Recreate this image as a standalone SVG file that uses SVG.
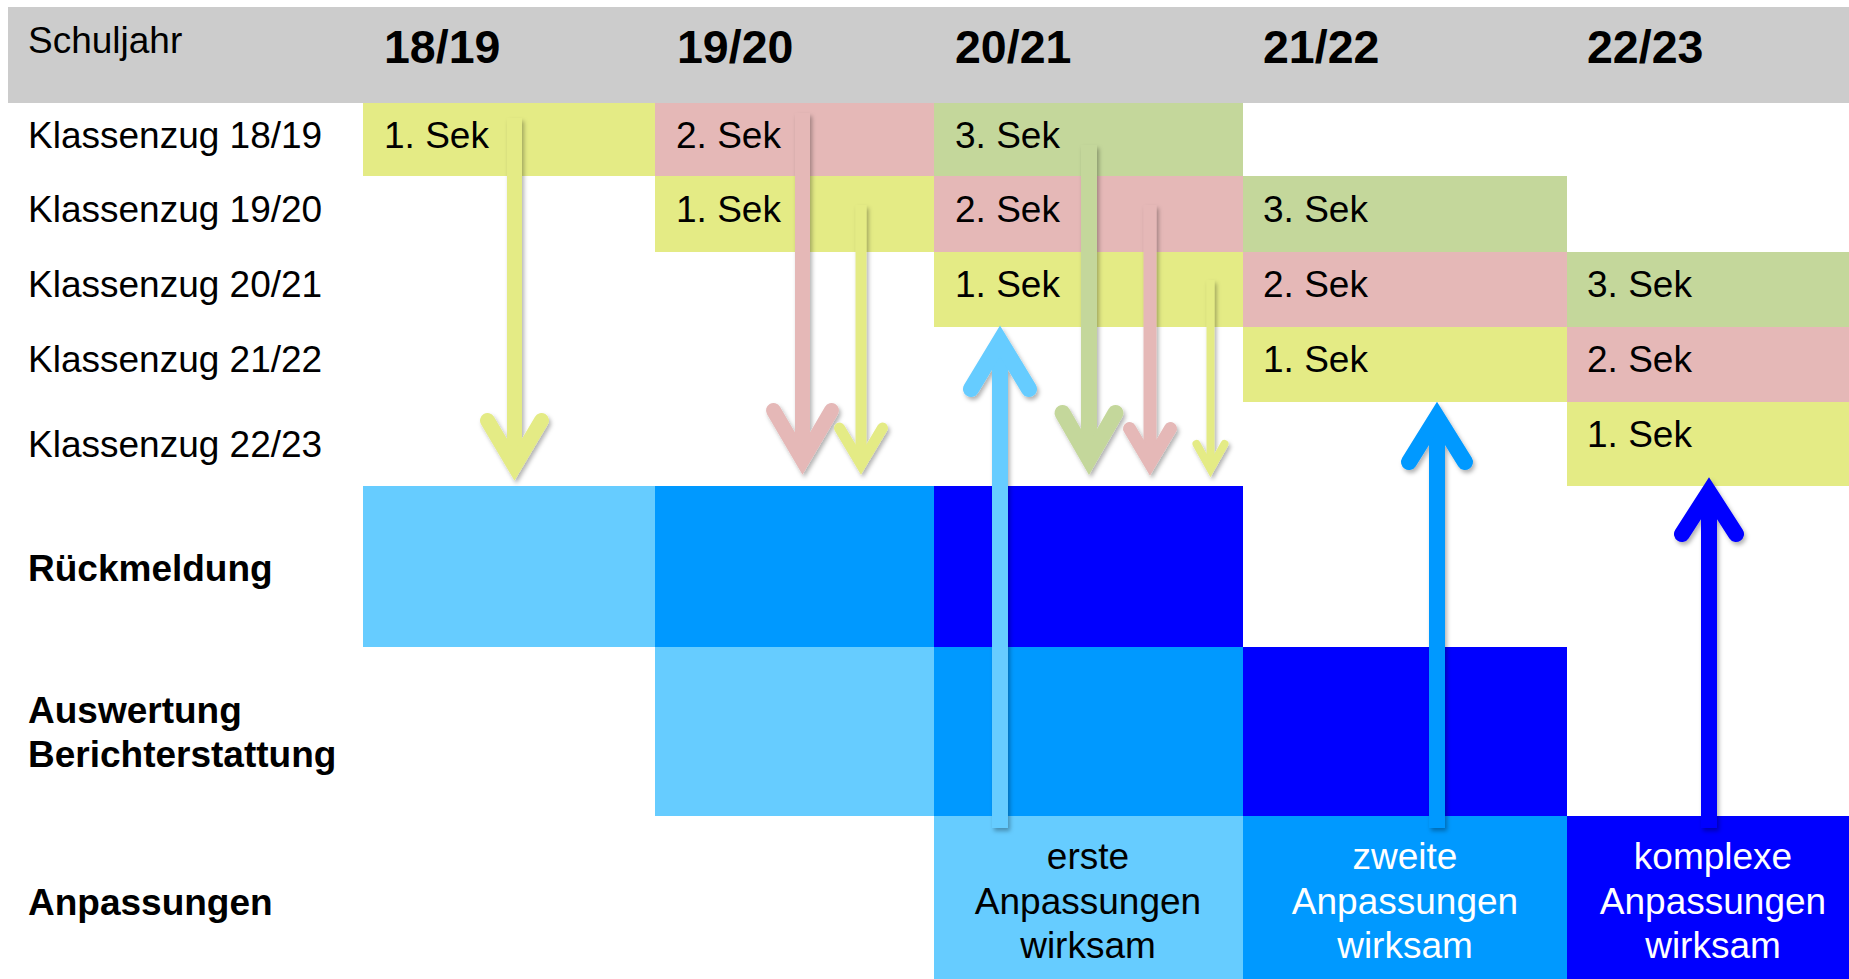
<svg xmlns="http://www.w3.org/2000/svg" width="1849" height="979" viewBox="0 0 1849 979">
<defs>
<style>
.t{font-family:"Liberation Sans",Arial,sans-serif;font-size:37px;fill:#000}
.b{font-weight:bold}
.y{font-family:"Liberation Sans",Arial,sans-serif;font-size:46.5px;font-weight:bold;fill:#000}
.c{text-anchor:middle}
.w{fill:#fff}
.ye{fill:#E4EB85}.pk{fill:#E5B8B7}.gr{fill:#C4D79B}
.b1{fill:#66CCFF}.b2{fill:#0099FF}.b3{fill:#0000FF}
.ar{fill:none;stroke-linecap:round;stroke-linejoin:miter;stroke-miterlimit:10}
.sh{fill:none;stroke-linecap:butt}
</style>
<filter id="ds" x="-30%" y="-10%" width="160%" height="120%">
<feDropShadow dx="2" dy="3" stdDeviation="2" flood-color="#000" flood-opacity="0.3"/>
</filter>
</defs>
<rect width="1849" height="979" fill="#fff"/>
<g id="header">
<rect x="8" y="7" width="1841" height="96" fill="#CCCCCC"/>
<text class="t" x="28" y="53">Schuljahr</text>
<text class="y" x="384" y="63">18/19</text>
<text class="y" x="677" y="63">19/20</text>
<text class="y" x="955" y="63">20/21</text>
<text class="y" x="1263" y="63">21/22</text>
<text class="y" x="1587" y="63">22/23</text>
</g>
<g id="row-labels">
<text class="t" x="28" y="148">Klassenzug 18/19</text>
<text class="t" x="28" y="222">Klassenzug 19/20</text>
<text class="t" x="28" y="297">Klassenzug 20/21</text>
<text class="t" x="28" y="372">Klassenzug 21/22</text>
<text class="t" x="28" y="457">Klassenzug 22/23</text>
<text class="t b" x="28" y="581">Rückmeldung</text>
<text class="t b" x="28" y="723">Auswertung</text>
<text class="t b" x="28" y="767">Berichterstattung</text>
<text class="t b" x="28" y="915">Anpassungen</text>
</g>
<g id="kz1819">
<rect class="ye" x="363" y="103" width="292" height="73"/><text class="t" x="384" y="148">1. Sek</text>
<rect class="pk" x="655" y="103" width="279" height="73"/><text class="t" x="676" y="148">2. Sek</text>
<rect class="gr" x="934" y="103" width="309" height="73"/><text class="t" x="955" y="148">3. Sek</text>
</g>
<g id="kz1920">
<rect class="ye" x="655" y="176" width="279" height="76"/><text class="t" x="676" y="222">1. Sek</text>
<rect class="pk" x="934" y="176" width="309" height="76"/><text class="t" x="955" y="222">2. Sek</text>
<rect class="gr" x="1243" y="176" width="324" height="76"/><text class="t" x="1263" y="222">3. Sek</text>
</g>
<g id="kz2021">
<rect class="ye" x="934" y="252" width="309" height="75"/><text class="t" x="955" y="297">1. Sek</text>
<rect class="pk" x="1243" y="252" width="324" height="75"/><text class="t" x="1263" y="297">2. Sek</text>
<rect class="gr" x="1567" y="252" width="282" height="75"/><text class="t" x="1587" y="297">3. Sek</text>
</g>
<g id="kz2122">
<rect class="ye" x="1243" y="327" width="324" height="75"/><text class="t" x="1263" y="372">1. Sek</text>
<rect class="pk" x="1567" y="327" width="282" height="75"/><text class="t" x="1587" y="372">2. Sek</text>
</g>
<g id="kz2223">
<rect class="ye" x="1567" y="402" width="282" height="84"/><text class="t" x="1587" y="447">1. Sek</text>
</g>
<g id="rueckmeldung">
<rect class="b1" x="363" y="486" width="292" height="161"/>
<rect class="b2" x="655" y="486" width="279" height="161"/>
<rect class="b3" x="934" y="486" width="309" height="161"/>
</g>
<g id="auswertung">
<rect class="b1" x="655" y="647" width="279" height="169"/>
<rect class="b2" x="934" y="647" width="309" height="169"/>
<rect class="b3" x="1243" y="647" width="324" height="169"/>
</g>
<g id="anpassungen">
<rect class="b1" x="934" y="816" width="309" height="163"/>
<text class="t c" x="1088" y="869">erste</text>
<text class="t c" x="1088" y="914">Anpassungen</text>
<text class="t c" x="1088" y="958">wirksam</text>
<rect class="b2" x="1243" y="816" width="324" height="163"/>
<text class="t c w" x="1405" y="869">zweite</text>
<text class="t c w" x="1405" y="914">Anpassungen</text>
<text class="t c w" x="1405" y="958">wirksam</text>
<rect class="b3" x="1567" y="816" width="282" height="163"/>
<text class="t c w" x="1713" y="869">komplexe</text>
<text class="t c w" x="1713" y="914">Anpassungen</text>
<text class="t c w" x="1713" y="958">wirksam</text>
</g>
<g id="connectors" filter="url(#ds)">
<g stroke="#E4EB85" stroke-width="15">
<path class="sh" d="M514.5 118V466"/><path class="ar" d="M487.5 420.5L514.5 466L541.5 420.5"/>
</g>
<g stroke="#E5B8B7" stroke-width="15">
<path class="sh" d="M802.5 113V460"/><path class="ar" d="M773.5 410.5L802.5 460L831.5 410.5"/>
</g>
<g stroke="#E4EB85" stroke-width="11">
<path class="sh" d="M861 205V464"/><path class="ar" d="M839.5 428L861 464L882.5 428"/>
</g>
<g stroke="#C4D79B" stroke-width="16">
<path class="sh" d="M1089 145V459"/><path class="ar" d="M1062.5 413L1089 459L1115.5 413"/>
</g>
<g stroke="#E5B8B7" stroke-width="13">
<path class="sh" d="M1150 205V463"/><path class="ar" d="M1129.5 428.5L1150 463L1170.5 428.5"/>
</g>
<g stroke="#E4EB85" stroke-width="8">
<path class="sh" d="M1210.5 280V469"/><path class="ar" d="M1196.5 444L1210.5 469L1224.5 444"/>
</g>
<g stroke="#66CCFF" stroke-width="16">
<path class="sh" d="M1000 828V341"/><path class="ar" d="M971 389L1000 341L1029 389"/>
</g>
<g stroke="#0099FF" stroke-width="16">
<path class="sh" d="M1437 828V417"/><path class="ar" d="M1409 462L1437 417L1465 462"/>
</g>
<g stroke="#0000FF" stroke-width="16">
<path class="sh" d="M1709 828V492"/><path class="ar" d="M1682 534L1709 492L1736 534"/>
</g>
</g>
</svg>
